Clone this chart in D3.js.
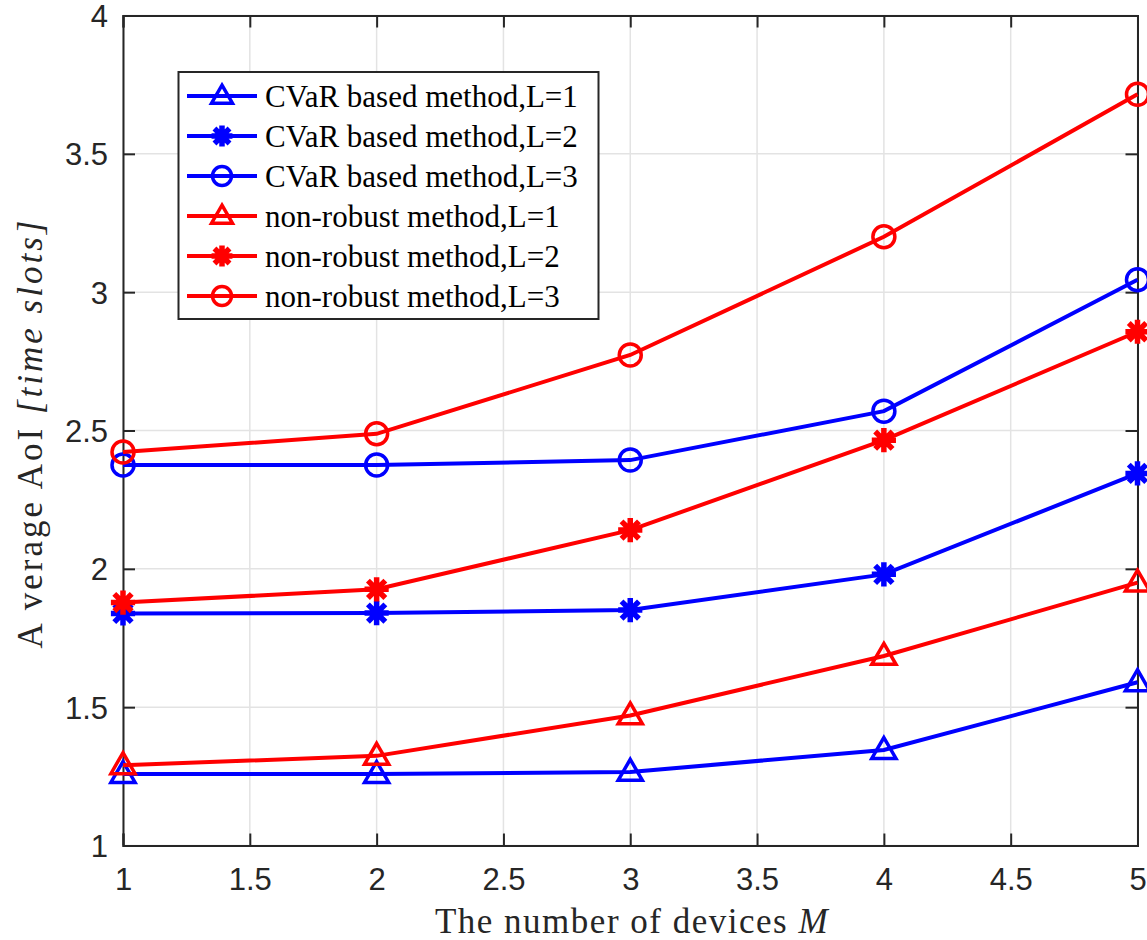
<!DOCTYPE html>
<html>
<head>
<meta charset="utf-8">
<script src="https://cdn.jsdelivr.net/npm/d3@7"></script>
<style>
  body { margin: 0; background: #fff; }
  svg { display: block; }
</style>
</head>
<body>
<svg class="chart"></svg>
<script>
var devices = [1, 2, 3, 4, 5];
var cvarL1 = [1.258, 1.258, 1.266, 1.345, 1.59];
var cvarL2 = [1.839, 1.840, 1.851, 1.980, 2.345];
var cvarL3 = [2.375, 2.375, 2.393, 2.570, 3.045];
var nrL1 = [1.290, 1.324, 1.470, 1.685, 1.950];
var nrL2 = [1.878, 1.926, 2.140, 2.465, 2.857];
var nrL3 = [2.422, 2.488, 2.773, 3.200, 3.715];
var xTicks = [1, 1.5, 2, 2.5, 3, 3.5, 4, 4.5, 5];
var yTicks = [1, 1.5, 2, 2.5, 3, 3.5, 4];

var series = [
  { name: "CVaR based method,L=1", values: cvarL1, color: "#0000ff", marker: "triangle" },
  { name: "CVaR based method,L=2", values: cvarL2, color: "#0000ff", marker: "asterisk" },
  { name: "CVaR based method,L=3", values: cvarL3, color: "#0000ff", marker: "circle" },
  { name: "non-robust method,L=1", values: nrL1, color: "#ff0000", marker: "triangle" },
  { name: "non-robust method,L=2", values: nrL2, color: "#ff0000", marker: "asterisk" },
  { name: "non-robust method,L=3", values: nrL3, color: "#ff0000", marker: "circle" }
];

var svg = d3.select(".chart")
    .attr("width", 1147)
    .attr("height", 940);

var pLeft = 123, pRight = 1137.5, pTop = 15.5, pBottom = 845.5;

var x = d3.scaleLinear().domain([1, 5]).range([pLeft, pRight]);
var y = d3.scaleLinear().domain([1, 4]).range([pBottom, pTop]);

// grid
svg.append("g").selectAll("line").data(xTicks).enter().append("line")
    .attr("x1", function(d) { return x(d); })
    .attr("x2", function(d) { return x(d); })
    .attr("y1", pTop).attr("y2", pBottom)
    .attr("stroke", "#e3e3e3").attr("stroke-width", 1.5);
svg.append("g").selectAll("line").data(yTicks).enter().append("line")
    .attr("y1", function(d) { return y(d); })
    .attr("y2", function(d) { return y(d); })
    .attr("x1", pLeft).attr("x2", pRight)
    .attr("stroke", "#e3e3e3").attr("stroke-width", 1.5);

// axes (ticks inward, mirrored on top/right)
var axisColor = "#262626";
var tickLen = 12;
var xAxis = d3.axisBottom(x).tickValues(xTicks).tickSize(-tickLen).tickPadding(22)
    .tickFormat(d3.format("~g"));
var yAxis = d3.axisLeft(y).tickValues(yTicks).tickSize(-tickLen).tickPadding(15)
    .tickFormat(d3.format("~g"));

var gx = svg.append("g").attr("transform", "translate(0," + pBottom + ")").call(xAxis);
var gy = svg.append("g").attr("transform", "translate(" + pLeft + ",0)").call(yAxis);
var gxt = svg.append("g").attr("transform", "translate(0," + pTop + ")")
    .call(d3.axisTop(x).tickValues(xTicks).tickSize(-tickLen).tickFormat(""));
var gyr = svg.append("g").attr("transform", "translate(" + pRight + ",0)")
    .call(d3.axisRight(y).tickValues(yTicks).tickSize(-tickLen).tickFormat(""));

[gx, gy, gxt, gyr].forEach(function(g) {
  g.select(".domain").attr("stroke", axisColor).attr("stroke-width", 2);
  g.selectAll(".tick line").attr("stroke", axisColor).attr("stroke-width", 2);
  g.selectAll(".tick text")
    .attr("fill", "#262626")
    .attr("font-family", "'Liberation Sans', Arial, sans-serif")
    .attr("font-size", 31);
});
gy.selectAll(".tick text").attr("dy", "0.35em");

// axis titles
svg.append("text")
    .attr("x", 632).attr("y", 933)
    .attr("text-anchor", "middle")
    .attr("font-family", "'Liberation Serif', 'Times New Roman', serif")
    .attr("font-size", 35)
    .attr("letter-spacing", 1.5)
    .attr("fill", "#262626")
    .text("The number of devices ")
  .append("tspan")
    .attr("font-style", "italic")
    .text("M");

var yl = svg.append("text")
    .attr("transform", "translate(42,433) rotate(-90)")
    .attr("text-anchor", "middle")
    .attr("font-family", "'Liberation Serif', 'Times New Roman', serif")
    .attr("font-size", 35)
    .attr("letter-spacing", 3)
    .attr("fill", "#262626")
    .text("A verage AoI ");
yl.append("tspan").attr("font-style", "italic").text("[time slots]");

// markers
function drawMarker(g, type, color, size) {
  if (type === "circle") {
    g.append("circle").attr("r", size * 0.5)
      .attr("fill", "none").attr("stroke", color).attr("stroke-width", 3.5);
  } else if (type === "triangle") {
    var h = size * 0.95, w = size * 1.1;
    g.append("path")
      .attr("d", "M0," + (-h * 0.6) + "L" + (w / 2) + "," + (h * 0.4) + "L" + (-w / 2) + "," + (h * 0.4) + "Z")
      .attr("fill", "none").attr("stroke", color).attr("stroke-width", 3.5);
  } else {
    var r = size * 0.55, d = r * 0.72;
    g.append("path")
      .attr("d", "M" + (-r) + ",0L" + r + ",0M0," + (-r) + "L0," + r +
                 "M" + (-d) + "," + (-d) + "L" + d + "," + d +
                 "M" + (-d) + "," + d + "L" + d + "," + (-d))
      .attr("fill", "none").attr("stroke", color).attr("stroke-width", 5.5);
  }
}

var line = d3.line()
    .x(function(d, i) { return x(devices[i]); })
    .y(function(d) { return y(d); });

series.forEach(function(s) {
  svg.append("path")
    .datum(s.values)
    .attr("d", line)
    .attr("fill", "none")
    .attr("stroke", s.color)
    .attr("stroke-width", 4);

  svg.append("g").selectAll("g").data(s.values).enter().append("g")
    .attr("transform", function(d, i) { return "translate(" + x(devices[i]) + "," + y(d) + ")"; })
    .each(function() { drawMarker(d3.select(this), s.marker, s.color, 22); });
});

// legend
var legend = svg.append("g");
legend.append("rect")
    .attr("x", 178.5).attr("y", 72)
    .attr("width", 420).attr("height", 247)
    .attr("fill", "#fff")
    .attr("stroke", axisColor).attr("stroke-width", 2);

var rows = legend.selectAll("g.row").data(series).enter().append("g")
    .attr("class", "row")
    .attr("transform", function(d, i) { return "translate(0," + (96 + i * 40) + ")"; });

rows.append("line")
    .attr("x1", 187).attr("x2", 257)
    .attr("stroke", function(d) { return d.color; })
    .attr("stroke-width", 4);
rows.each(function(d) {
  var m = d3.select(this).append("g").attr("transform", "translate(222,0)");
  drawMarker(m, d.marker, d.color, 19);
});
rows.append("text")
    .attr("x", 265).attr("dy", "0.35em")
    .attr("font-family", "'Liberation Serif', 'Times New Roman', serif")
    .attr("font-size", 31)
    .attr("fill", "#000")
    .text(function(d) { return d.name; });
</script>
</body>
</html>
